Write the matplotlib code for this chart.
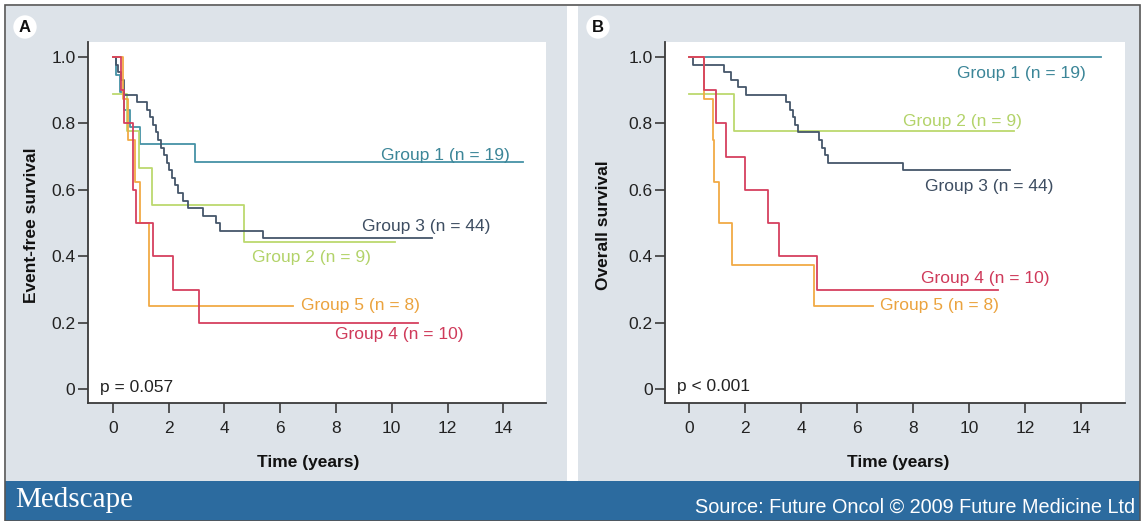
import matplotlib
matplotlib.use("Agg")
import matplotlib.pyplot as plt
from matplotlib.patches import Rectangle

plt.rcParams['font.family'] = ['Liberation Sans', 'DejaVu Sans']

# colours of the five groups
colors = {1: '#4592a6', 2: '#bcd96e', 3: '#45566a', 4: '#d6405f', 5: '#f1aa45'}
text_colors = {1: '#3c8698', 2: '#b3d36a', 3: '#3e4e62', 4: '#cf3a5a', 5: '#eba33e'}
labels = {1: 'Group 1 (n = 19)', 2: 'Group 2 (n = 9)', 3: 'Group 3 (n = 44)',
          4: 'Group 4 (n = 10)', 5: 'Group 5 (n = 8)'}

# ---- panel A: event-free survival (time of step, survival after step; last = end of follow-up)
a_g1_t = [0, 0.1, 0.25, 0.4, 0.6, 0.98, 2.95, 14.7]
a_g1_s = [1.0, 0.947, 0.895, 0.842, 0.789, 0.737, 0.684, 0.684]
a_g2_t = [0, 0.5, 0.95, 1.4, 4.7, 10.1]
a_g2_s = [0.889, 0.778, 0.667, 0.556, 0.444, 0.444]
a_g3_t = [0, 0.1, 0.2, 0.3, 0.4, 0.87, 1.23, 1.33, 1.43, 1.53, 1.63, 1.73, 1.83,
          1.93, 2.03, 2.13, 2.23, 2.33, 2.52, 2.7, 3.24, 3.7, 3.85, 5.39, 11.43]
a_g3_s = [1.0, 0.977, 0.955, 0.932, 0.886, 0.864, 0.841, 0.818, 0.795, 0.773, 0.75,
          0.727, 0.705, 0.682, 0.659, 0.636, 0.614, 0.591, 0.568, 0.545, 0.523,
          0.5, 0.477, 0.455, 0.455]
a_g4_t = [0, 0.3, 0.4, 0.74, 0.83, 1.45, 2.15, 3.1, 10.95]
a_g4_s = [1.0, 0.9, 0.8, 0.6, 0.5, 0.4, 0.3, 0.2, 0.2]
a_g5_t = [0, 0.37, 0.55, 0.8, 0.98, 1.31, 6.46]
a_g5_s = [1.0, 0.875, 0.75, 0.625, 0.5, 0.25, 0.25]

# ---- panel B: overall survival
b_g1_t = [0, 14.7]
b_g1_s = [1.0, 1.0]
b_g2_t = [0, 1.6, 11.6]
b_g2_s = [0.889, 0.778, 0.778]
b_g3_t = [0, 0.15, 1.25, 1.5, 1.75, 2.05, 3.46, 3.6, 3.7, 3.8, 3.9, 4.64, 4.75,
          4.85, 4.95, 7.65, 11.46]
b_g3_s = [1.0, 0.977, 0.955, 0.932, 0.909, 0.886, 0.864, 0.841, 0.818, 0.795,
          0.773, 0.75, 0.727, 0.705, 0.682, 0.659, 0.659]
b_g4_t = [0, 0.55, 0.97, 1.32, 2.0, 2.82, 3.2, 4.56, 11.04]
b_g4_s = [1.0, 0.9, 0.8, 0.7, 0.6, 0.5, 0.4, 0.3, 0.3]
b_g5_t = [0, 0.55, 0.86, 0.9, 1.07, 1.52, 4.45, 6.57]
b_g5_s = [1.0, 0.875, 0.75, 0.625, 0.5, 0.375, 0.25, 0.25]

# label anchor (left x, centre y) in data units
a_label_pos = {1: (9.62, 0.705), 3: (8.94, 0.489), 2: (5.0, 0.398), 5: (6.75, 0.254), 4: (7.98, 0.164)}
b_label_pos = {1: (9.57, 0.949), 2: (7.64, 0.807), 3: (8.43, 0.609), 4: (8.29, 0.335), 5: (6.82, 0.254)}

x_ticks = [0, 2, 4, 6, 8, 10, 12, 14]
y_ticks = [0, 0.2, 0.4, 0.6, 0.8, 1.0]
y_ticklabels = ['0', '0.2', '0.4', '0.6', '0.8', '1.0']

bg = '#dde3e9'
fig = plt.figure(figsize=(11.44, 5.21), dpi=100)
fig.patch.set_facecolor('white')

W, H = 1144, 521
def px(x0, y0, x1, y1):
    return (x0 / W, 1 - y1 / H, (x1 - x0) / W, (y1 - y0) / H)

# grey panel backgrounds and outer border
for x0, x1 in [(6, 567), (578, 1139)]:
    l, b, w, h = px(x0, 6, x1, 481)
    fig.patches.append(Rectangle((l, b), w, h, transform=fig.transFigure,
                                 facecolor=bg, edgecolor='none', zorder=-2))
l, b, w, h = px(5, 5, 1140, 521)
fig.patches.append(Rectangle((l, b), w, h, transform=fig.transFigure,
                             facecolor='none', edgecolor='#555555', lw=1.2, zorder=5))
# banner
l, b, w, h = px(5, 481, 1140, 521)
fig.patches.append(Rectangle((l, b), w, h, transform=fig.transFigure,
                             facecolor='#2c6b9f', edgecolor='none', zorder=-1))
fig.text(15 / W, 1 - 500 / H, 'Medscape', color='white', fontsize=21,
         family='Liberation Serif', va='center', ha='left')
fig.text(1135 / W, 1 - 507 / H, 'Source: Future Oncol \u00a9 2009 Future Medicine Ltd',
         color='white', fontsize=14.3, va='center', ha='right')

panels = [
    dict(rect=px(88, 42, 546, 403), xlim=(-0.89, 15.53), letter='A', lx=25,
         ylabel='Event-free survival', ylx=32, xlx=308, p='p = 0.057', pp=(-0.46, 0.005),
         data=[(1, a_g1_t, a_g1_s), (2, a_g2_t, a_g2_s), (3, a_g3_t, a_g3_s),
               (5, a_g5_t, a_g5_s), (4, a_g4_t, a_g4_s)],
         lab=a_label_pos),
    dict(rect=px(665, 42, 1125, 403), xlim=(-0.857, 15.57), letter='B', lx=598,
         ylabel='Overall survival', ylx=603, xlx=898, p='p < 0.001', pp=(-0.43, 0.008),
         data=[(1, b_g1_t, b_g1_s), (2, b_g2_t, b_g2_s), (3, b_g3_t, b_g3_s),
               (5, b_g5_t, b_g5_s), (4, b_g4_t, b_g4_s)],
         lab=b_label_pos),
]

for pn in panels:
    ax = fig.add_axes(pn['rect'])
    ax.set_zorder(2)
    ax.set_facecolor('white')
    for g, t, s in pn['data']:
        ax.step(t, s, where='post', color=colors[g], lw=1.3)
        x, y = pn['lab'][g]
        ax.text(x, y, labels[g], color=text_colors[g], fontsize=12.5, va='center', ha='left')
    ax.text(pn['pp'][0], pn['pp'][1], pn['p'], color='#222222', fontsize=12.5, va='center', ha='left')
    ax.set_xlim(*pn['xlim'])
    ax.set_ylim(-0.0406, 1.045)
    ax.set_xticks(x_ticks)
    ax.set_yticks(y_ticks)
    ax.set_yticklabels(y_ticklabels)
    for side in ['top', 'right']:
        ax.spines[side].set_visible(False)
    for side in ['left', 'bottom']:
        ax.spines[side].set_color('#3a3a3a')
        ax.spines[side].set_linewidth(1.3)
    ax.tick_params(axis='both', colors='#3a3a3a', labelcolor='#222222', labelsize=12.5,
                   length=7, width=1.2)
    ax.tick_params(axis='y', pad=2)
    ax.tick_params(axis='x', pad=6)
    fig.text(pn['lx'] / W, 1 - 27 / H, pn['letter'], fontsize=12, fontweight='bold',
             ha='center', va='center', color='#111111', zorder=6,
             bbox=dict(boxstyle='circle,pad=0.25', fc='white', ec='none'))
    fig.text(pn['ylx'] / W, 1 - 225 / H, pn['ylabel'], rotation=90, fontsize=12.5,
             fontweight='bold', ha='center', va='center', color='#111111')
    fig.text(pn['xlx'] / W, 1 - 462 / H, 'Time (years)', fontsize=12.5,
             fontweight='bold', ha='center', va='center', color='#111111')

fig.savefig('out.png', dpi=100, facecolor=fig.get_facecolor())
